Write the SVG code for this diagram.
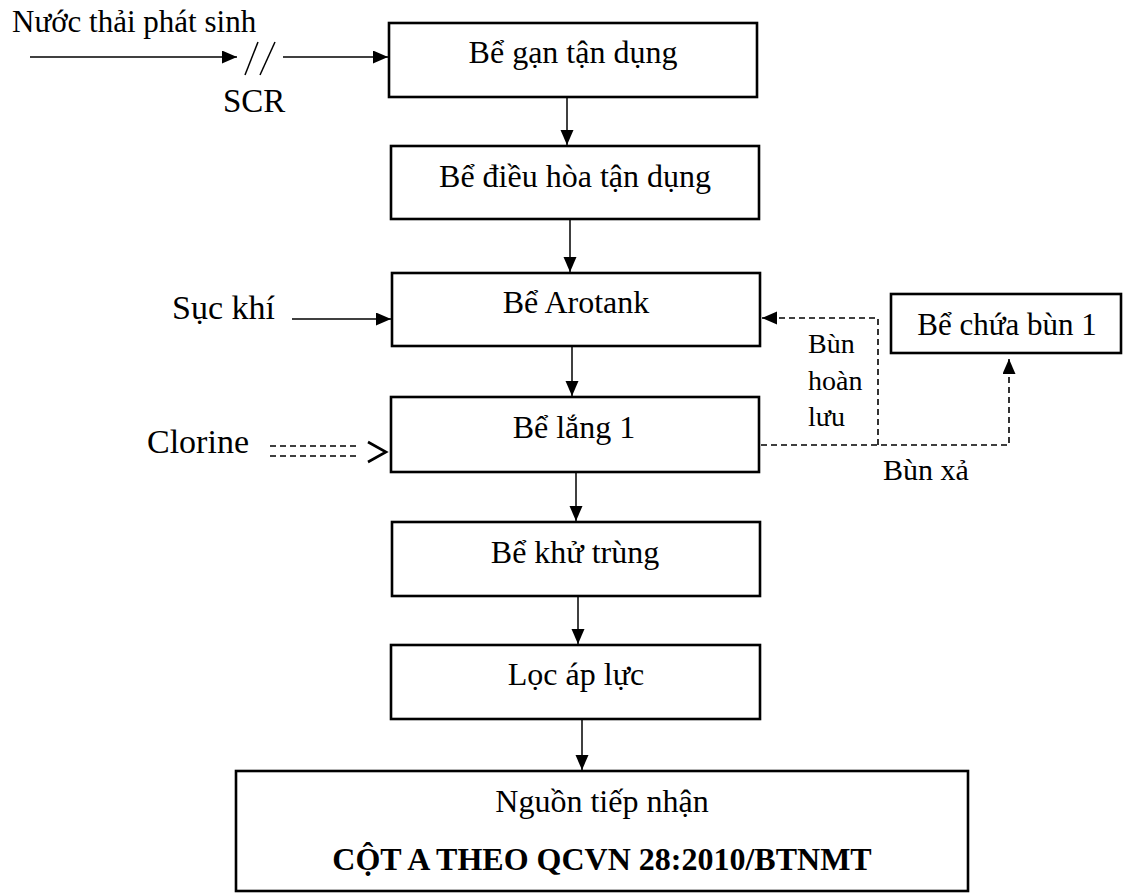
<svg xmlns="http://www.w3.org/2000/svg" width="1123" height="893" viewBox="0 0 1123 893">
  <style>
    .box { fill: #fff; stroke: #000; stroke-width: 2.6; }
    .t { font-family: "Liberation Serif", "Times New Roman", serif; fill: #000; }
    .lbl { font-size: 32px; text-anchor: middle; }
    .ln { fill: none; stroke: #000; stroke-width: 1.5; }
    .dash { fill: none; stroke: #000; stroke-width: 1.6; stroke-dasharray: 6 4; }
  </style>
  <defs>
    <marker id="ah" markerUnits="userSpaceOnUse" markerWidth="16" markerHeight="14" refX="15" refY="6.5" orient="auto">
      <path d="M0,0 L15,6.5 L0,13 z" fill="#000" stroke="none"/>
    </marker>
  </defs>

  <g id="connectors">
    <line class="ln" x1="30" y1="57" x2="237" y2="57" marker-end="url(#ah)"/>
    <line class="ln" x1="245" y1="75" x2="258" y2="42"/>
    <line class="ln" x1="260" y1="75" x2="275" y2="42"/>
    <line class="ln" x1="283" y1="57" x2="388" y2="57" marker-end="url(#ah)"/>
    <line class="ln" x1="567" y1="97" x2="567" y2="145" marker-end="url(#ah)"/>
    <line class="ln" x1="570" y1="219" x2="570" y2="272" marker-end="url(#ah)"/>
    <line class="ln" x1="572" y1="346" x2="572" y2="396" marker-end="url(#ah)"/>
    <line class="ln" x1="576" y1="472" x2="576" y2="521" marker-end="url(#ah)"/>
    <line class="ln" x1="578" y1="596" x2="578" y2="644" marker-end="url(#ah)"/>
    <line class="ln" x1="582" y1="719" x2="582" y2="770" marker-end="url(#ah)"/>
    <line class="ln" x1="292" y1="319" x2="391" y2="319" marker-end="url(#ah)"/>
    <line class="dash" x1="270" y1="446" x2="358" y2="446" stroke-dasharray="7 4"/>
    <line class="dash" x1="270" y1="456" x2="358" y2="456" stroke-dasharray="7 4"/>
    <polyline points="368,442 386,452 368,462" fill="none" stroke="#000" stroke-width="2.6"/>
    <path class="dash" d="M878,445 V318 H762" marker-end="url(#ah)"/>
    <path class="dash" d="M761,445 H1009 V359" marker-end="url(#ah)"/>
  </g>

  <g id="input-labels">
    <text class="t" x="12" y="32" font-size="31">Nước thải phát sinh</text>
    <text class="t" x="223" y="112" font-size="33">SCR</text>
    <text class="t" x="172" y="319" font-size="34">Sục khí</text>
    <text class="t" x="147" y="453" font-size="34">Clorine</text>
    <text class="t" x="808" y="353" font-size="28">Bùn</text>
    <text class="t" x="808" y="390" font-size="28">hoàn</text>
    <text class="t" x="808" y="426" font-size="28">lưu</text>
    <text class="t" x="883" y="480" font-size="30">Bùn xả</text>
  </g>

  <g id="n1">
    <rect class="box" x="389" y="23" width="368" height="74"/>
    <text class="t lbl" x="573" y="63">Bể gạn tận dụng</text>
  </g>
  <g id="n2">
    <rect class="box" x="391" y="146" width="368" height="73"/>
    <text class="t lbl" x="575" y="187">Bể điều hòa tận dụng</text>
  </g>
  <g id="n3">
    <rect class="box" x="392" y="273" width="368" height="73"/>
    <text class="t lbl" x="576" y="313">Bể Arotank</text>
  </g>
  <g id="n4">
    <rect class="box" x="391" y="397" width="368" height="75"/>
    <text class="t lbl" x="574" y="438">Bể lắng 1</text>
  </g>
  <g id="n5">
    <rect class="box" x="392" y="522" width="368" height="74"/>
    <text class="t lbl" x="575" y="563">Bể khử trùng</text>
  </g>
  <g id="n6">
    <rect class="box" x="391" y="645" width="369" height="74"/>
    <text class="t lbl" x="576" y="685">Lọc áp lực</text>
  </g>
  <g id="n7">
    <rect class="box" x="236" y="771" width="732" height="120"/>
    <text class="t lbl" x="602" y="812">Nguồn tiếp nhận</text>
    <text class="t lbl" x="602" y="870" font-weight="bold">CỘT A THEO QCVN 28:2010/BTNMT</text>
  </g>
  <g id="n8">
    <rect class="box" x="891" y="294" width="230" height="59"/>
    <text class="t" x="1007" y="335" font-size="31" text-anchor="middle">Bể chứa bùn 1</text>
  </g>
</svg>
